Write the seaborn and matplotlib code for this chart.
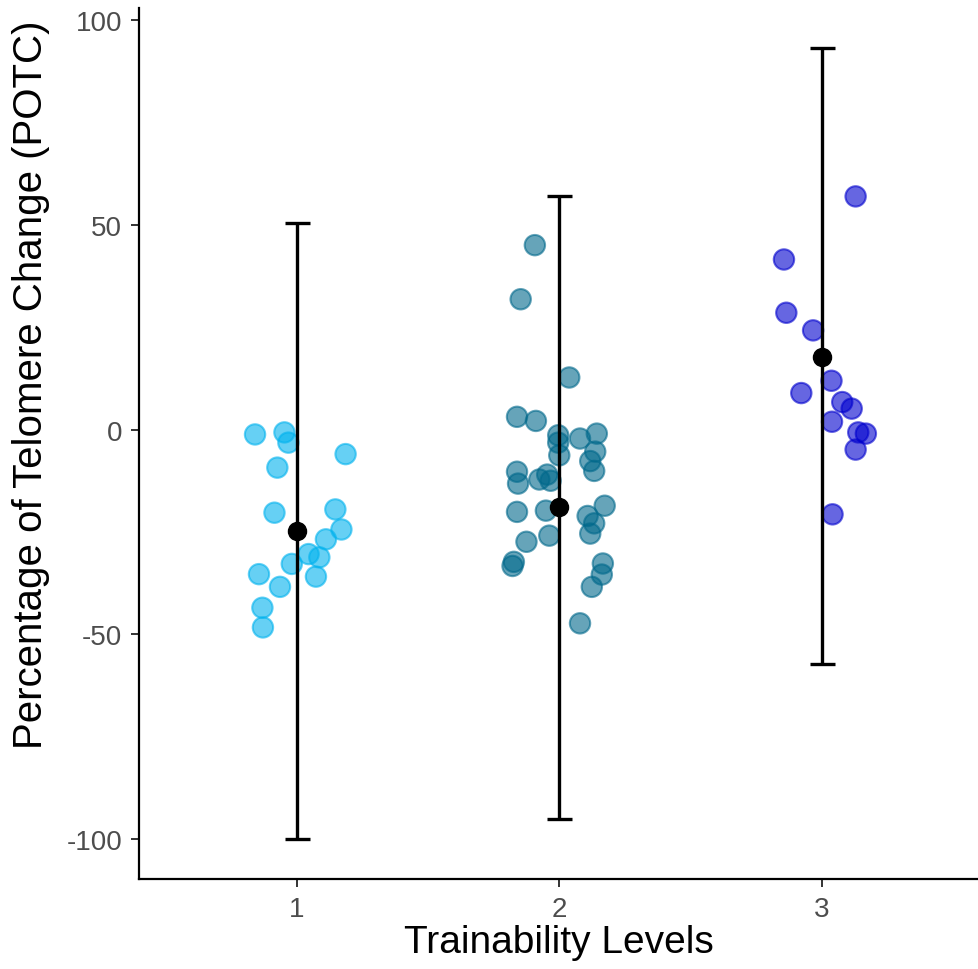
import numpy as np
import pandas as pd
import matplotlib.pyplot as plt
import seaborn as sns

# jittered x position and POTC value of each subject, per trainability level
level1_x = [0.842, 0.954, 0.969, 1.187, 0.927, 0.916, 1.148, 1.171, 1.112, 1.046,
            1.087, 0.982, 0.857, 1.074, 0.937, 0.870, 0.872]
level1_y = [-1.2, -0.7, -3.2, -6.0, -9.3, -20.3, -19.5, -24.4, -26.8, -30.4,
            -31.2, -32.8, -35.3, -35.9, -38.4, -43.5, -48.3]

level2_x = [1.908, 1.854, 2.039, 1.840, 1.912, 1.997, 1.997, 2.080, 2.144, 2.138,
            2.119, 2.001, 2.134, 1.840, 1.844, 1.925, 1.955, 1.968, 1.840, 1.950,
            2.174, 2.109, 2.134, 2.119, 1.963, 1.876, 1.828, 1.823, 2.167, 2.163,
            2.125, 2.080]
level2_y = [45.0, 31.8, 12.7, 3.1, 2.1, -1.4, -3.2, -2.2, -1.0, -5.4,
            -7.7, -6.3, -10.1, -10.3, -13.2, -12.2, -11.0, -12.5, -20.1, -19.8,
            -18.6, -21.1, -22.9, -25.4, -25.9, -27.4, -32.3, -33.3, -32.7, -35.4,
            -38.4, -47.3]

level3_x = [3.130, 2.857, 2.866, 2.968, 3.038, 2.923, 3.079, 3.115, 3.040, 3.140,
            3.169, 3.130, 3.042]
level3_y = [56.9, 41.5, 28.5, 24.2, 11.9, 8.9, 6.7, 5.1, 1.9, -0.7,
            -1.0, -4.9, -20.7]

levels = [1, 2, 3]
means = [-24.7, -19.0, 17.6]
lower = [-100.0, -95.1, -57.3]
upper = [50.5, 57.1, 93.2]

colors = ["#00B2EE", "#00688B", "#0000CD"]

df = pd.concat([
    pd.DataFrame({"level": str(lv), "x": xs, "y": ys})
    for lv, xs, ys in zip(levels, [level1_x, level2_x, level3_x],
                          [level1_y, level2_y, level3_y])
])

sns.set_theme(style="ticks")
plt.rcParams["font.family"] = ["Liberation Sans", "DejaVu Sans"]

fig = plt.figure(figsize=(9.79, 9.70), dpi=100)
ax = fig.add_axes([0.142, 0.0928, 0.858, 0.898])

sns.scatterplot(data=df, x="x", y="y", hue="level",
                palette=dict(zip(["1", "2", "3"], colors)),
                s=215, alpha=0.6, linewidth=1.5, legend=False, ax=ax, zorder=2)
pts = ax.collections[0]
pts.set_edgecolor(pts.get_facecolors())

means = np.array(means)
yerr = [means - np.array(lower), np.array(upper) - means]
ax.errorbar(levels, means, yerr=yerr, fmt="o", color="black", ms=13,
            elinewidth=2.4, capsize=9, capthick=2.4, zorder=3)

ax.set_xlim(0.4, 3.6)
ax.set_ylim(-109.7, 102.9)
ax.set_xticks(levels)
ax.set_yticks([-100, -50, 0, 50, 100])
ax.set_yticklabels(["-100", "-50", "0", "50", "100"])
ax.set_xlabel("Trainability Levels", fontsize=28, color="black", labelpad=2)
ax.set_ylabel("Percentage of Telomere Change (POTC)", fontsize=29, color="black")
ax.yaxis.set_label_coords(-0.106, 0.568)
ax.tick_params(labelsize=20, labelcolor="#4D4D4D", color="#333333", length=6, width=1.4, pad=6)
for side in ["left", "bottom"]:
    ax.spines[side].set_linewidth(1.6)
    ax.spines[side].set_color("black")
sns.despine(ax=ax)

fig.savefig("out.png", dpi=100)
